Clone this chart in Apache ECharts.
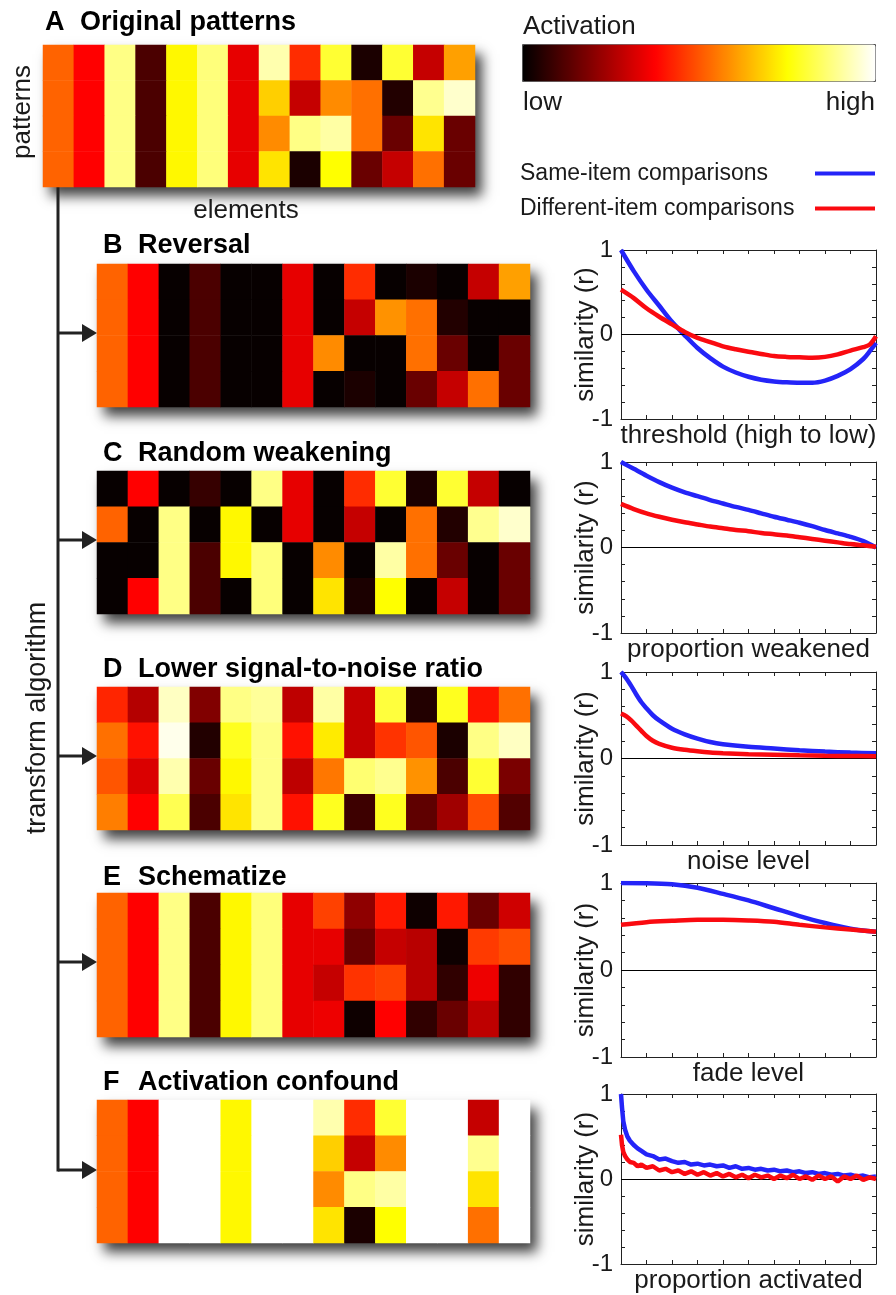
<!DOCTYPE html>
<html><head><meta charset="utf-8">
<script src="https://cdn.jsdelivr.net/npm/echarts@6/dist/echarts.min.js"></script>
<style>html,body{margin:0;padding:0;background:#fff}#c{width:896px;height:1295px}</style>
</head><body><div id="c"></div>
<script>
const FONT = "'Liberation Sans', Arial, Helvetica, sans-serif";
const TXT = '#1a1a1a';

// ---------- DATA ----------
const elements = ['e1','e2','e3','e4','e5','e6','e7','e8','e9','e10','e11','e12','e13','e14'];
const patternRows = ['p1','p2','p3','p4'];

const heatOriginal = [
  [0.52,0.375,0.88,0.11,0.74,0.87,0.34,0.92,0.44,0.80,0.04,0.80,0.29,0.61],
  [0.52,0.375,0.88,0.11,0.74,0.87,0.34,0.68,0.29,0.58,0.54,0.05,0.89,0.95],
  [0.52,0.375,0.88,0.11,0.74,0.87,0.34,0.58,0.88,0.91,0.54,0.155,0.71,0.155],
  [0.52,0.375,0.88,0.11,0.74,0.87,0.34,0.71,0.04,0.75,0.155,0.29,0.54,0.155]
];
const heatReversal = [
  [0.52,0.375,0.01,0.11,0.01,0.01,0.34,0.01,0.44,0.01,0.04,0.01,0.29,0.61],
  [0.52,0.375,0.01,0.11,0.01,0.01,0.34,0.01,0.29,0.59,0.54,0.05,0.01,0.01],
  [0.52,0.375,0.01,0.11,0.01,0.01,0.34,0.58,0.01,0.01,0.54,0.155,0.01,0.155],
  [0.52,0.375,0.01,0.11,0.01,0.01,0.34,0.01,0.04,0.01,0.155,0.29,0.54,0.155]
];
const heatWeakening = [
  [0.01,0.375,0.01,0.08,0.01,0.88,0.34,0.01,0.44,0.80,0.04,0.80,0.29,0.01],
  [0.52,0.01,0.88,0.01,0.74,0.01,0.34,0.01,0.29,0.01,0.54,0.05,0.89,0.95],
  [0.01,0.01,0.88,0.11,0.74,0.87,0.01,0.58,0.01,0.91,0.54,0.155,0.01,0.155],
  [0.01,0.375,0.88,0.11,0.01,0.87,0.01,0.71,0.04,0.75,0.01,0.29,0.01,0.155]
];
const heatNoise = [
  [0.43,0.265,0.94,0.19,0.88,0.90,0.28,0.91,0.29,0.81,0.05,0.78,0.405,0.54],
  [0.54,0.40,0.98,0.05,0.78,0.88,0.40,0.72,0.29,0.45,0.50,0.04,0.88,0.94],
  [0.50,0.32,0.92,0.155,0.74,0.88,0.28,0.55,0.86,0.89,0.59,0.11,0.80,0.18],
  [0.56,0.375,0.83,0.11,0.71,0.88,0.40,0.78,0.09,0.78,0.14,0.235,0.49,0.12]
];
const heatSchematize = [
  [0.52,0.375,0.88,0.11,0.74,0.87,0.34,0.47,0.21,0.41,0.02,0.41,0.155,0.305],
  [0.52,0.375,0.88,0.11,0.74,0.87,0.34,0.34,0.155,0.29,0.27,0.02,0.46,0.49],
  [0.52,0.375,0.88,0.11,0.74,0.87,0.34,0.29,0.45,0.47,0.27,0.07,0.35,0.07],
  [0.52,0.375,0.88,0.11,0.74,0.87,0.34,0.35,0.02,0.375,0.07,0.155,0.28,0.07]
];
const heatConfound = [
  [0.52,0.375,1,1,0.74,1,1,0.92,0.44,0.80,1,1,0.29,1],
  [0.52,0.375,1,1,0.74,1,1,0.68,0.29,0.58,1,1,0.89,1],
  [0.52,0.375,1,1,0.74,1,1,0.58,0.88,0.91,1,1,0.71,1],
  [0.52,0.375,1,1,0.74,1,1,0.71,0.04,0.75,1,1,0.54,1]
];

const thrX = [0,0.05,0.1,0.15,0.2,0.25,0.3,0.35,0.4,0.45,0.5,0.55,0.6,0.65,0.7,0.75,0.8,0.85,0.9,0.95,0.975,1];
const thrSame = [1.0,0.75,0.53,0.34,0.15,-0.01,-0.16,-0.28,-0.38,-0.45,-0.5,-0.535,-0.555,-0.565,-0.57,-0.57,-0.545,-0.49,-0.41,-0.29,-0.2,-0.1];
const thrDiff = [0.53,0.43,0.31,0.21,0.12,0.03,-0.04,-0.09,-0.14,-0.175,-0.205,-0.23,-0.255,-0.265,-0.27,-0.275,-0.265,-0.235,-0.19,-0.15,-0.12,-0.02];

const weakX = [0,0.05,0.1,0.15,0.2,0.25,0.3,0.35,0.4,0.45,0.5,0.55,0.6,0.65,0.7,0.75,0.8,0.85,0.9,0.95,1];
const weakSame = [1.0,0.92,0.84,0.765,0.7,0.645,0.6,0.555,0.515,0.475,0.44,0.4,0.36,0.325,0.29,0.25,0.205,0.165,0.125,0.075,0.0];
const weakDiff = [0.51,0.45,0.4,0.36,0.325,0.295,0.27,0.245,0.225,0.205,0.19,0.17,0.155,0.14,0.12,0.1,0.08,0.06,0.04,0.025,0.01];

const noiseX = [0,0.02,0.04,0.06,0.08,0.1,0.125,0.15,0.2,0.25,0.3,0.35,0.4,0.5,0.6,0.7,0.8,0.9,1];
const noiseSame = [1.0,0.93,0.84,0.74,0.65,0.58,0.5,0.44,0.345,0.28,0.23,0.19,0.165,0.135,0.115,0.095,0.08,0.068,0.06];
const noiseDiff = [0.52,0.49,0.44,0.38,0.32,0.26,0.205,0.17,0.125,0.1,0.083,0.07,0.062,0.05,0.043,0.037,0.032,0.029,0.027];

const fadeX = [0,0.1,0.2,0.3,0.4,0.5,0.6,0.7,0.8,0.9,1];
const fadeSame = [1.0,0.998,0.985,0.945,0.875,0.8,0.71,0.62,0.54,0.475,0.44];
const fadeDiff = [0.52,0.55,0.565,0.577,0.577,0.57,0.555,0.52,0.49,0.465,0.44];

const actX = [0,0.004,0.009,0.016,0.025,0.035,0.05,0.065,0.08,
  0.1,0.125,0.15,0.175,0.2,0.225,0.25,0.275,0.3,0.325,0.35,0.375,0.4,0.425,0.45,0.475,0.5,
  0.525,0.55,0.575,0.6,0.625,0.65,0.675,0.7,0.725,0.75,0.775,0.8,0.825,0.85,0.875,0.9,0.925,0.95,0.975,1];
const actSame = [1.0,0.84,0.68,0.58,0.5,0.45,0.4,0.36,0.33,
  0.29,0.27,0.23,0.24,0.21,0.19,0.2,0.17,0.18,0.16,0.17,0.15,0.16,0.13,0.15,0.12,0.13,
  0.11,0.12,0.1,0.11,0.09,0.1,0.08,0.09,0.07,0.08,0.06,0.07,0.05,0.06,0.04,0.05,0.03,0.04,0.02,0.03];
const actDiff = [0.52,0.4,0.32,0.27,0.23,0.2,0.19,0.15,0.17,
  0.13,0.15,0.1,0.12,0.08,0.1,0.06,0.09,0.05,0.08,0.04,0.07,0.03,0.06,0.02,0.05,0.01,
  0.05,0.02,0.04,0.0,0.04,0.01,0.05,0.0,0.03,-0.01,0.04,0.0,0.03,-0.03,0.03,0.0,0.04,-0.01,0.02,0.0];

const yTickLabels = ['-1','0','1'];
const seriesNames = ['Same-item comparisons','Different-item comparisons'];
const panelLetters = ['A','B','C','D','E','F'];
const panelNames = ['Original patterns','Reversal','Random weakening','Lower signal-to-noise ratio','Schematize','Activation confound'];
const xAxisNames = ['threshold (high to low)','proportion weakened','noise level','fade level','proportion activated'];

// ---------- LAYOUT ----------
const heatmaps = [heatOriginal, heatReversal, heatWeakening, heatNoise, heatSchematize, heatConfound];
const heatBoxes = [
  {left:43, top:45, width:432, height:142},
  {left:97, top:264, width:433, height:143},
  {left:97, top:471, width:433, height:143},
  {left:97, top:687, width:433, height:143},
  {left:97, top:893, width:433, height:144},
  {left:97, top:1100, width:433, height:143}
];
const titlePos = [[45,80,23],[103,138,246],[103,138,454],[103,138,670],[103,138,878],[103,138,1083]];
const plots = [
  {x:thrX, s:thrSame, d:thrDiff},
  {x:weakX, s:weakSame, d:weakDiff},
  {x:noiseX, s:noiseSame, d:noiseDiff},
  {x:fadeX, s:fadeSame, d:fadeDiff},
  {x:actX, s:actSame, d:actDiff}
];
const plotBoxes = [
  {left:621, top:250, width:255, height:169},
  {left:621, top:462, width:255, height:171},
  {left:621, top:672, width:255, height:173},
  {left:621, top:883, width:255, height:174},
  {left:621, top:1094, width:255, height:172}
];
const arrowY = [333, 540, 756, 962, 1170];
const BLUE = '#2424f8', RED = '#fa0a10';
const hot = ['#000000','#550000','#aa0000','#ff0000','#ff5500','#ffaa00','#ffff00','#ffff80','#ffffff'];

// ---------- BUILD ----------
const grid = [], xAxis = [], yAxis = [], series = [], graphic = [];

heatmaps.forEach((m, i) => {
  grid.push(Object.assign({}, heatBoxes[i]));
  xAxis.push({type:'category', gridIndex:i, data:elements, show:false});
  yAxis.push({type:'category', gridIndex:i, data:patternRows, inverse:true, show:false});
  const data = [];
  m.forEach((row, r) => row.forEach((v, c) => data.push([c, r, v])));
  series.push({type:'heatmap', xAxisIndex:i, yAxisIndex:i, data, itemStyle:{borderWidth:0}, emphasis:{disabled:true}, z:3});
  const b = heatBoxes[i];
  graphic.push({type:'rect', z:1, silent:true,
    shape:{x:b.left, y:b.top, width:b.width, height:b.height},
    style:{fill:'#fff', shadowBlur:12, shadowOffsetX:7, shadowOffsetY:9, shadowColor:'rgba(0,0,0,0.75)'}});
});

const isMain = v => yTickLabels.indexOf(String(Math.round(v))) >= 0 && Math.abs(v - Math.round(v)) < 1e-6;
const axLine = {show:true, onZero:false, lineStyle:{color:'#222', width:1}};
const axTick = {show:true, inside:true, length:4, lineStyle:{color:'#222', width:1}};

plots.forEach((p, j) => {
  const g = heatmaps.length + j;
  grid.push(Object.assign({}, plotBoxes[j]));
  const xb = xAxis.length;
  xAxis.push({type:'value', gridIndex:g, min:0, max:1, interval:0.1, position:'bottom',
    axisLine:axLine, axisTick:axTick, axisLabel:{show:false}, splitLine:{show:false},
    name:xAxisNames[j], nameLocation:'middle', nameGap:4, nameMoveOverlap:false,
    nameTextStyle:{fontSize:26, color:TXT, fontFamily:FONT, verticalAlign:'top'}});
  xAxis.push({type:'value', gridIndex:g, min:0, max:1, interval:0.1, position:'top',
    axisLine:axLine, axisTick:axTick, axisLabel:{show:false}, splitLine:{show:false}});
  const yl = yAxis.length;
  yAxis.push({type:'value', gridIndex:g, min:-1, max:1, interval:0.2, position:'left',
    axisLine:axLine, axisTick:axTick, splitLine:{show:false},
    axisLabel:{fontSize:24, color:TXT, fontFamily:FONT, margin:8,
      formatter: v => isMain(v) ? String(Math.round(v)) : ''},
    name:'similarity (r)', nameLocation:'middle', nameGap:22, nameRotate:90, nameMoveOverlap:false,
    nameTextStyle:{fontSize:26, color:TXT, fontFamily:FONT}});
  yAxis.push({type:'value', gridIndex:g, min:-1, max:1, interval:0.2, position:'right',
    axisLine:axLine, axisTick:axTick, axisLabel:{show:false}, splitLine:{show:false}});
  const smooth = j < 4 ? 0.3 : false;
  series.push({type:'line', name:seriesNames[0], xAxisIndex:xb, yAxisIndex:yl,
    data:p.x.map((v,k)=>[v,p.s[k]]), showSymbol:false, smooth, color:BLUE,
    lineStyle:{width:4.5, color:BLUE}, z:4,
    markLine:{silent:true, symbol:['none','none'], label:{show:false},
      lineStyle:{color:'#000', width:1, type:'solid'}, data:[{yAxis:0}], animation:false}});
  series.push({type:'line', name:seriesNames[1], xAxisIndex:xb, yAxisIndex:yl,
    data:p.x.map((v,k)=>[v,p.d[k]]), showSymbol:false, smooth, color:RED,
    lineStyle:{width:4.5, color:RED}, z:5});
});

// panel titles
panelLetters.forEach((L, i) => {
  const [lx, tx, ty] = titlePos[i];
  graphic.push({type:'text', x:lx, y:ty, z:10, silent:true,
    style:{text:L, fontSize:27, fontWeight:'bold', fontFamily:FONT, fill:'#000', align:'left', verticalAlign:'middle'}});
  graphic.push({type:'text', x:tx, y:ty, z:10, silent:true,
    style:{text:panelNames[i], fontSize:27, fontWeight:'bold', fontFamily:FONT, fill:'#000', align:'left', verticalAlign:'middle'}});
});

// side labels
graphic.push({type:'text', x:23, y:112, rotation:Math.PI/2, z:10, silent:true,
  style:{text:'patterns', fontSize:26, fontFamily:FONT, fill:TXT, align:'center', verticalAlign:'middle'}});
graphic.push({type:'text', x:246, y:211, z:10, silent:true,
  style:{text:'elements', fontSize:26, fontFamily:FONT, fill:TXT, align:'center', verticalAlign:'middle'}});
graphic.push({type:'text', x:38, y:718, rotation:Math.PI/2, z:10, silent:true,
  style:{text:'transform algorithm', fontSize:27, fontFamily:FONT, fill:TXT, align:'center', verticalAlign:'middle'}});

// colorbar labels
graphic.push({type:'text', x:523, y:27, z:10, silent:true,
  style:{text:'Activation', fontSize:26, fontFamily:FONT, fill:TXT, align:'left', verticalAlign:'middle'}});
graphic.push({type:'text', x:523, y:103, z:10, silent:true,
  style:{text:'low', fontSize:26, fontFamily:FONT, fill:TXT, align:'left', verticalAlign:'middle'}});
graphic.push({type:'text', x:875, y:103, z:10, silent:true,
  style:{text:'high', fontSize:26, fontFamily:FONT, fill:TXT, align:'right', verticalAlign:'middle'}});

// connector and arrows
graphic.push({type:'line', z:2, silent:true, shape:{x1:58, y1:187, x2:58, y2:arrowY[arrowY.length-1]+1.5},
  style:{stroke:'#222', lineWidth:3}});
arrowY.forEach(y => {
  graphic.push({type:'line', z:2, silent:true, shape:{x1:58, y1:y, x2:86, y2:y}, style:{stroke:'#222', lineWidth:3}});
  graphic.push({type:'polygon', z:2, silent:true, shape:{points:[[82,y-9],[97,y],[82,y+9]]}, style:{fill:'#222'}});
});

const option = {
  animation:false,
  backgroundColor:'#fff',
  grid, xAxis, yAxis, series, graphic,
  visualMap:{type:'continuous', min:0, max:1, seriesIndex:[0,1,2,3,4,5], orient:'horizontal',
    left:522, top:44, itemWidth:37, itemHeight:353, calculable:false, hoverLink:false,
    padding:0, borderWidth:1, borderColor:'#555', inRange:{color:hot}, text:null, showLabel:false},
  legend:{left:515, top:157, orient:'vertical', align:'right', icon:'rect', itemWidth:60, itemHeight:4,
    itemGap:12, selectedMode:false, data:seriesNames,
    formatter:'{t|{name}}',
    textStyle:{fontSize:23, color:TXT, fontFamily:FONT,
      rich:{t:{width:290, align:'left', fontSize:23, color:TXT, fontFamily:FONT}}}}
};

const chart = echarts.init(document.getElementById('c'), null, {renderer:'canvas'});
chart.setOption(option);
</script></body></html>
